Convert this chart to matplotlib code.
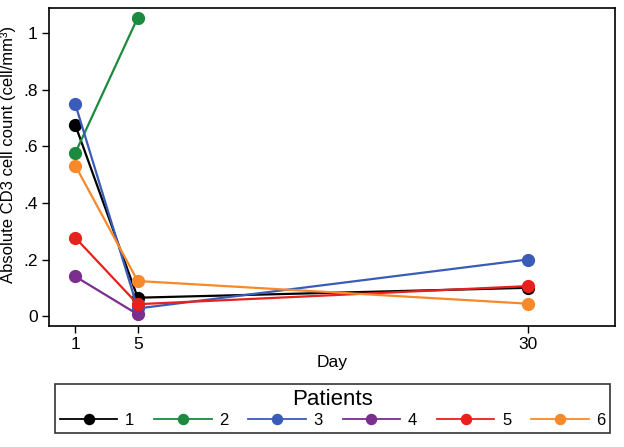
import matplotlib.pyplot as plt

plt.rcParams['font.family'] = ['Liberation Sans', 'DejaVu Sans']

# days and CD3 counts
p1_days = [1, 5, 30]
p1_vals = [0.675, 0.065, 0.100]
p2_days = [1, 5]
p2_vals = [0.577, 1.055]
p3_days = [1, 5, 30]
p3_vals = [0.749, 0.027, 0.200]
p4_days = [1, 5]
p4_vals = [0.140, 0.006]
p5_days = [1, 5, 30]
p5_vals = [0.277, 0.042, 0.106]
p6_days = [1, 5, 30]
p6_vals = [0.532, 0.124, 0.044]

patients = ['1', '2', '3', '4', '5', '6']
days_all = [p1_days, p2_days, p3_days, p4_days, p5_days, p6_days]
vals_all = [p1_vals, p2_vals, p3_vals, p4_vals, p5_vals, p6_vals]
colors = ['#000000', '#1b8a3e', '#3a5cb8', '#7a2e8e', '#e8211d', '#f7892b']

fig = plt.figure(figsize=(6.24, 4.47), dpi=100)
ax = fig.add_axes([0.0785, 0.2707, 0.907, 0.7113])

for name, d, v, c in zip(patients, days_all, vals_all, colors):
    ax.plot(d, v, color=c, lw=1.6, marker='o', markersize=8.5, label=name)

ax.set_xlim(-0.69, 35.6)
ax.set_ylim(-0.035, 1.089)
ax.set_xticks([1, 5, 30])
ax.set_yticks([0, 0.2, 0.4, 0.6, 0.8, 1.0])
ax.set_yticklabels(['0', '.2', '.4', '.6', '.8', '1'])
ax.tick_params(direction='out', length=5, labelsize=12.5, width=1, pad=3)
for s in ax.spines.values():
    s.set_linewidth(1.2)
ax.set_xlabel('Day', fontsize=12.5, labelpad=2)
ax.set_ylabel('Absolute CD3 cell count (cell/mm³)', fontsize=12)
ax.yaxis.set_label_coords(-0.058, 0.54)

leg = fig.legend(loc='center', bbox_to_anchor=(0.533, 0.0861), ncol=6,
                 title='Patients', fontsize=12, title_fontsize=16,
                 handlelength=3.45, handletextpad=0.45, columnspacing=1.2,
                 fancybox=False, edgecolor='black', borderpad=0.3,
                 labelspacing=0.2, markerscale=0.85)
leg.get_frame().set_linewidth(1.2)
for h in leg.legend_handles:
    h.set_linewidth(1.3)

fig.savefig('out.png', dpi=100)
